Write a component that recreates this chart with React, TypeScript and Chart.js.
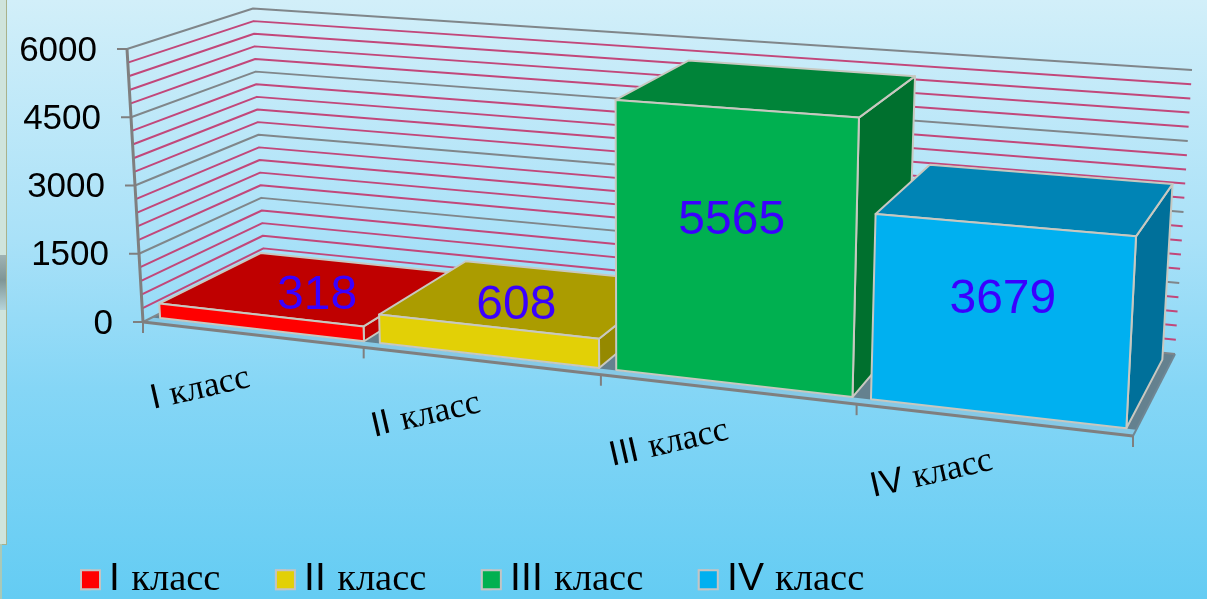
import React, { useEffect, useRef } from "react";
import { Chart, registerables } from "chart.js";

Chart.register(...registerables);

const categories = ["I класс", "II класс", "III класс", "IV класс"];
const values = [318, 608, 5565, 3679];
const yTicks = [0, 1500, 3000, 4500, 6000];
const MINOR_STEP = 300;
const MAJOR_STEP = 1500;
const Y_MAX = 6000;

const frontColors = ["#FF0000", "#E2D006", "#00B050", "#00B0F0"];
const topColors = ["#BF0000", "#AB9C00", "#008439", "#0084B5"];
const sideColors = ["#BF0000", "#958900", "#00702E", "#00709A"];

const CAPTION_FONT = "CaptionLatin, 'Liberation Serif', serif";
const NUMBER_FONT = "'Liberation Sans', Arial, sans-serif";
const FONT_CSS = `@font-face { font-family: CaptionLatin; src: local("Liberation Sans"), local("LiberationSans"); unicode-range: U+0020-007E; }`;

// 3D box of the plot, as seen in the picture
const FL_B = [143, 322], FL_T = [127, 49], FR_B = [1133, 436], FR_T = [1149, 120];
const BL_B = [264, 261], BL_T = [253, 8.5], BR_B = [1175, 354], BR_T = [1192, 70];
const PERSPECTIVE = 1.162;
const BAR_W0 = 0.08, BAR_W1 = 0.92;
const LABEL_NUDGE = [[57, -26], [29, -35], [-2, -25], [3, -19]];

const mix = (a: number[], b: number[], k: number) => [a[0] + (b[0] - a[0]) * k, a[1] + (b[1] - a[1]) * k];
const warp = (u: number) => (u <= 0 ? 0 : u >= 1 ? 1 : u / (u + PERSPECTIVE * (1 - u)));
function project(u: number, v: number, w: number) {
  const t = warp(u);
  const front = mix(mix(FL_B, FR_B, t), mix(FL_T, FR_T, t), v);
  const back = mix(mix(BL_B, BR_B, t), mix(BL_T, BR_T, t), v);
  return mix(front, back, w);
}

function poly(ctx: CanvasRenderingContext2D, pts: number[][], fill?: string, stroke?: string, lw = 2) {
  ctx.beginPath();
  pts.forEach((p, i) => (i ? ctx.lineTo(p[0], p[1]) : ctx.moveTo(p[0], p[1])));
  if (fill) {
    ctx.closePath();
    ctx.fillStyle = fill;
    ctx.fill();
  }
  if (stroke) {
    ctx.strokeStyle = stroke;
    ctx.lineWidth = lw;
    ctx.lineJoin = "round";
    ctx.stroke();
  }
}

const bar3d = {
  id: "bar3d",
  beforeDatasetsDraw(chart: any) {
    const { ctx, chartArea: a, scales } = chart;
    const ux = (px: number) => (px - a.left) / (a.right - a.left);
    const vy = (py: number) => (a.bottom - py) / (a.bottom - a.top);
    const yS = scales.y, xS = scales.x;
    ctx.save();

    // floor
    poly(ctx, [project(0, 0, 0), project(1, 0, 0), project(1, 0, 1), project(0, 0, 1)], "#64818F");
    poly(ctx, [project(0, 0, 0), project(1, 0, 0), project(1, 0, 0.075), project(0, 0, 0.075)], "#86C9E6");

    // grid on the two walls
    for (let val = MINOR_STEP; val <= Y_MAX; val += MINOR_STEP) {
      const v = vy(yS.getPixelForValue(val));
      const major = val % MAJOR_STEP === 0;
      poly(ctx, [project(0, v, 0), project(0, v, 1), project(1, v, 1)], undefined, major ? "#80868A" : "#C2477A", 2);
    }
    poly(ctx, [project(0, 0, 0), project(0, 0, 1), project(1, 0, 1)], undefined, "#80868A", 2);
    // axis lines
    poly(ctx, [project(0, 1, 0), project(0, 0, 0), project(1, 0, 0)], undefined, "#7F7F7F", 3);
    poly(ctx, [project(1, 0, 0), project(1, 0, 1)], undefined, "#6F8794", 2);

    // y ticks and labels
    ctx.textAlign = "right";
    ctx.textBaseline = "middle";
    ctx.font = `35px ${NUMBER_FONT}`;
    yS.ticks.forEach((t: any) => {
      const p = project(0, vy(yS.getPixelForValue(t.value)), 0);
      poly(ctx, [[p[0] - 10, p[1]], [p[0], p[1]]], undefined, "#7F7F7F", 2);
      ctx.fillStyle = "#000";
      ctx.fillText(String(t.value), p[0] - 30, p[1] + 2);
    });

    // x ticks and labels
    const step = (a.right - a.left) / categories.length;
    categories.forEach((_, i) => {
      const c = ux(xS.getPixelForValue(i));
      [i === 0 ? ux(a.left) : null, ux(a.left + step * (i + 1))].forEach((u) => {
        if (u === null) return;
        const p = project(u, 0, 0);
        poly(ctx, [p, [p[0], p[1] + 11]], undefined, "#7F7F7F", 2);
      });
      const p = project(c, 0, 0);
      ctx.save();
      ctx.translate(p[0] - 50 - 12 * c, p[1] + 54);
      ctx.rotate((-13 * Math.PI) / 180);
      ctx.textAlign = "center";
      ctx.font = `35px ${CAPTION_FONT}`;
      ctx.fillStyle = "#000";
      ctx.fillText(xS.getLabelForValue(i), 0, 0);
      ctx.restore();
    });

    // boxes
    chart.data.datasets.forEach((ds: any, di: number) => {
      const el = chart.getDatasetMeta(di).data[di];
      const { x, y, base, width } = el.getProps(["x", "y", "base", "width"], true);
      const u0 = ux(x - width / 2), u1 = ux(x + width / 2);
      const v0 = vy(base), v1 = vy(y);
      const edge = "#C8C8C0";
      poly(ctx, [project(u1, v0, BAR_W0), project(u1, v0, BAR_W1), project(u1, v1, BAR_W1), project(u1, v1, BAR_W0)], sideColors[di], edge);
      poly(ctx, [project(u0, v1, BAR_W0), project(u1, v1, BAR_W0), project(u1, v1, BAR_W1), project(u0, v1, BAR_W1)], topColors[di], edge);
      poly(ctx, [project(u0, v0, BAR_W0), project(u1, v0, BAR_W0), project(u1, v1, BAR_W0), project(u0, v1, BAR_W0)], frontColors[di], edge);
    });

    // value labels
    chart.data.datasets.forEach((ds: any, di: number) => {
      const el = chart.getDatasetMeta(di).data[di];
      const { x, y, base } = el.getProps(["x", "y", "base"], true);
      const p = project(ux(x), (vy(base) + vy(y)) / 2, BAR_W0);
      ctx.textAlign = "center";
      ctx.textBaseline = "middle";
      ctx.font = `48px ${NUMBER_FONT}`;
      ctx.fillStyle = "#3A00FF";
      ctx.fillText(String(ds.data[di]), p[0] + LABEL_NUDGE[di][0], p[1] + LABEL_NUDGE[di][1]);
    });

    ctx.restore();
    return false;
  },
  afterDraw(chart: any) {
    const { ctx, legend } = chart;
    if (!legend || !legend.legendHitBoxes) return;
    ctx.save();
    legend.legendHitBoxes.forEach((h: any, i: number) => {
      const cy = h.top + h.height / 2;
      ctx.fillStyle = frontColors[i];
      ctx.fillRect(h.left, cy - 9.5, 19, 19);
      ctx.strokeStyle = "#C4C4C4";
      ctx.lineWidth = 2;
      ctx.strokeRect(h.left, cy - 9.5, 19, 19);
    });
    ctx.restore();
  },
};

export default function App() {
  const ref = useRef<HTMLCanvasElement>(null);
  useEffect(() => {
    const chart = new Chart(ref.current as HTMLCanvasElement, {
      type: "bar",
      data: {
        labels: categories,
        datasets: categories.map((name, i) => ({
          label: name,
          data: values.map((v, j) => (j === i ? v : null)),
          backgroundColor: frontColors[i],
          borderColor: "#C4C4C4",
          borderWidth: 2,
        })),
      },
      options: {
        responsive: false,
        animation: false,
        events: [],
        datasets: { bar: { categoryPercentage: 1, barPercentage: 0.93 } },
        layout: { padding: { left: 25.5, top: 49, right: 74, bottom: -10 } },
        scales: {
          x: {
            stacked: true,
            grid: { display: false },
            border: { display: false },
            ticks: { display: false },
            afterFit(s: any) { s.height = 175; },
          },
          y: {
            stacked: true,
            min: 0,
            max: Y_MAX,
            afterBuildTicks(s: any) { s.ticks = yTicks.map((value) => ({ value })); },
            grid: { display: false },
            border: { display: false },
            ticks: { display: false },
            afterFit(s: any) { s.width = 117.5; },
          },
        },
        plugins: {
          tooltip: { enabled: false },
          title: { display: false },
          legend: {
            display: true,
            position: "bottom",
            align: "start",
            labels: {
              boxWidth: 9,
              boxHeight: 19,
              padding: 55.5,
              color: "#000",
              font: { size: 38.5, family: CAPTION_FONT },
            },
          },
        },
      },
      plugins: [bar3d],
    } as any);
    let alive = true;
    document.fonts.load(`38px CaptionLatin`, "I").then(() => {
      if (alive) chart.update();
    });
    return () => {
      alive = false;
      chart.destroy();
    };
  }, []);

  return (
    <div
      style={{
        position: "fixed", left: 0, top: 0, width: 1207, height: 599, overflow: "hidden",
        background: "linear-gradient(180deg, #D2EFF9 0%, #A9E1F8 40%, #85D6F6 65%, #64CCF3 100%)",
      }}
    >
      <style>{FONT_CSS}</style>
      <div style={{ position: "absolute", left: 0, top: 0, width: 6, height: 544, background: "#CFE4DC", borderRight: "1px solid #A9B28C", borderBottom: "1px solid #A9B28C" }} />
      <div style={{ position: "absolute", left: 0, top: 544, width: 2, height: 55, background: "#A9C9B8" }} />
      <div style={{ position: "absolute", left: 0, top: 255, width: 6, height: 55, background: "linear-gradient(180deg, #9FB3B4 0%, #7F9596 45%, #B6D4DA 100%)" }} />
      <canvas ref={ref} width={1207} height={599} style={{ position: "absolute", left: 0, top: 0, display: "block" }} />
    </div>
  );
}
